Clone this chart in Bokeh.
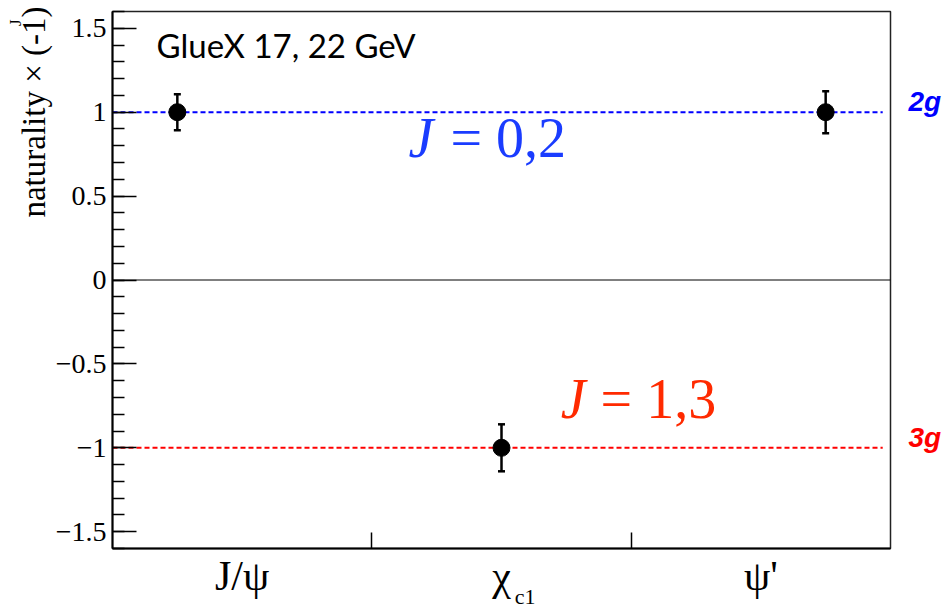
import math
from bokeh.plotting import figure
from bokeh.layouts import row
from bokeh.models import (FixedTicker, Label, Span, Whisker, TeeHead, Title,
                          ColumnDataSource, LinearAxis, Range1d)
from bokeh.embed import file_html
from bokeh.resources import INLINE

# ---- data ----
cat_positions = [0.5, 1.5, 2.5]
cat_labels = ["J/ψ", "χ", "ψ'"]
cat_bin_edges = [1, 2]
chi_sub_position = [1.591]
chi_sub_label = ["c1"]
point_x = [0.25, 1.5, 2.75]
point_y = [1.0, -1.0, 1.0]
point_err = [0.107, 0.14, 0.125]
y_ticks = [-1.5, -1.0, -0.5, 0.0, 0.5, 1.0, 1.5]
y_tick_labels = ["−1.5", "−1", "−0.5", "0", "0.5", "1", "1.5"]
y_minor = [round(-1.6 + 0.1 * i, 1) for i in range(33)]
line_levels = [1.0, -1.0]
line_colors = ["#0000ff", "#ff0000"]
line_x_start = 0.0
line_x_end = 2.97
gluon_labels = ["2g", "3g"]
gluon_levels = [0.970, -1.030]
gluon_colors = ["#0000ff", "#ff0000"]

SERIF = "Liberation Serif"
H = 611
TOP = 11
BOTTOM = 62
RIGHT_W = 54
MAIN_W = 949 - RIGHT_W

yr = Range1d(-1.6, 1.6)

p = figure(width=MAIN_W, height=H, x_range=(0, 3), y_range=yr,
           output_backend="svg", toolbar_location=None,
           min_border_left=112, min_border_right=5,
           min_border_top=TOP, min_border_bottom=BOTTOM)
p.xgrid.visible = False
p.ygrid.visible = False
p.outline_line_color = "#222222"
p.outline_line_width = 1.5

# y axis
ya = p.yaxis[0]
ya.ticker = FixedTicker(ticks=y_ticks, minor_ticks=y_minor)
ya.major_label_overrides = {t: l for t, l in zip(y_ticks, y_tick_labels)}
ya.major_tick_in = 24
ya.major_tick_out = 0
ya.minor_tick_in = 12
ya.minor_tick_out = 0
ya.axis_line_width = 2
ya.major_tick_line_width = 1.5
ya.minor_tick_line_width = 1.5
ya.major_label_text_font = SERIF
ya.major_label_text_font_size = "28px"
ya.major_label_text_color = "black"
ya.major_label_standoff = 6

# y axis title (rotated, aligned to the top end) and its superscript
p.add_layout(Title(text="naturality × (-1)", align="right", offset=-5, standoff=2,
                   text_font=SERIF, text_font_size="33px", text_font_style="normal",
                   text_color="black"), "left")
p.add_layout(Title(text="J", align="right", offset=8, standoff=-24,
                   text_font=SERIF, text_font_size="17px", text_font_style="normal",
                   text_color="black"), "left")

# x axis
xa = p.xaxis[0]
xa.ticker = FixedTicker(ticks=cat_positions, minor_ticks=cat_bin_edges)
xa.major_label_overrides = {t: l for t, l in zip(cat_positions, cat_labels)}
xa.major_tick_in = 0
xa.major_tick_out = 0
xa.minor_tick_in = 16
xa.minor_tick_out = 0
xa.minor_tick_line_width = 1.5
xa.axis_line_width = 2
xa.major_label_text_font = SERIF
xa.major_label_text_font_size = "42px"
xa.major_label_text_color = "black"
xa.major_label_standoff = 4

# subscript of chi_c1 as a second (line-less) bottom axis
sub_axis = LinearAxis(ticker=FixedTicker(ticks=chi_sub_position, minor_ticks=[]),
                      major_label_overrides={t: l for t, l in zip(chi_sub_position, chi_sub_label)},
                      axis_line_color=None, major_tick_line_color=None,
                      minor_tick_line_color=None, major_tick_in=0, major_tick_out=0,
                      minor_tick_in=0, minor_tick_out=0,
                      major_label_text_font=SERIF, major_label_text_font_size="22px",
                      major_label_text_color="black", major_label_standoff=-18)
p.add_layout(sub_axis, "below")

# zero line
p.add_layout(Span(location=0, dimension="width", line_color="black", line_width=1))

# dashed lines
for lvl, col in zip(line_levels, line_colors):
    p.segment(x0=[line_x_start], y0=[lvl], x1=[line_x_end], y1=[lvl],
              line_color=col, line_width=2, line_dash="5 3")

# points with error bars
src = ColumnDataSource(dict(x=point_x, y=point_y,
                            lo=[y - e for y, e in zip(point_y, point_err)],
                            hi=[y + e for y, e in zip(point_y, point_err)]))
w = Whisker(source=src, base="x", lower="lo", upper="hi", dimension="height",
            line_width=2.5, line_color="black",
            upper_head=TeeHead(size=7, line_width=2.5, line_color="black"),
            lower_head=TeeHead(size=7, line_width=2.5, line_color="black"))
p.add_layout(w)
p.scatter("x", "y", source=src, size=17, color="black")

# texts in the frame
p.add_layout(Label(x=0.170, y=1.280, text="GlueX 17, 22 GeV", text_font="Lato",
                   text_font_size="33px", text_color="black",
                   text_baseline="bottom"))
BLUE_T = "#1a3cff"
RED_T = "#ff2a00"
p.add_layout(Label(x=1.141, y=0.662, text="J", text_font=SERIF, text_font_style="italic",
                   text_font_size="56px", text_color=BLUE_T, text_baseline="bottom"))
p.add_layout(Label(x=1.303, y=0.662, text="= 0,2", text_font=SERIF,
                   text_font_size="56px", text_color=BLUE_T, text_baseline="bottom"))
p.add_layout(Label(x=1.728, y=-0.891, text="J", text_font=SERIF, text_font_style="italic",
                   text_font_size="56px", text_color=RED_T, text_baseline="bottom"))
p.add_layout(Label(x=1.882, y=-0.891, text="= 1,3", text_font=SERIF,
                   text_font_size="56px", text_color=RED_T, text_baseline="bottom"))

# right strip: gluon labels
right = figure(width=RIGHT_W, height=H, x_range=(0, RIGHT_W), y_range=yr,
               output_backend="svg", toolbar_location=None,
               min_border_left=0, min_border_right=0,
               min_border_top=TOP, min_border_bottom=BOTTOM,
               x_axis_location=None, y_axis_location=None)
right.outline_line_color = None
for g in right.grid:
    g.visible = False
for t, lvl, col in zip(gluon_labels, gluon_levels, gluon_colors):
    right.add_layout(Label(x=13, y=lvl, text=t, text_font="Liberation Sans",
                           text_font_style="bold italic", text_font_size="28px",
                           text_color=col, text_baseline="bottom"))

layout = row(p, right, spacing=0)
open("out.html", "w").write(file_html(layout, INLINE))
